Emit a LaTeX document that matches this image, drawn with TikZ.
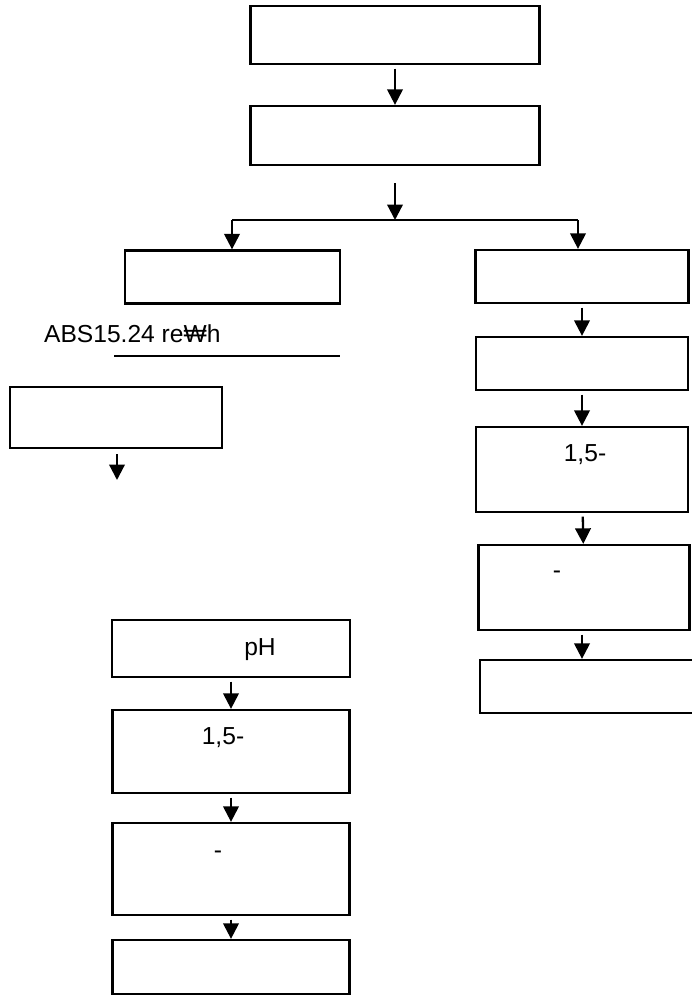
\documentclass[tikz,border=0pt]{standalone}
\usepackage{fontspec}
\setmainfont{Liberation Sans}
\usetikzlibrary{arrows.meta}

\begin{document}
\begin{tikzpicture}[->,>={Triangle[length=0.31cm,width=0.31cm]},line width=1.3pt]
                \tikzset{box/.style={draw, rectangle, minimum size=0pt, inner sep=0pt},
                         txt/.style={inner sep=0pt, font=\fontsize{14pt}{16pt}\selectfont},
                         every edge/.style={draw, shorten <=2pt}}
                \useasboundingbox (0,0) rectangle (13.82,-20);
                % top of the chart
                \node[box, minimum width=5.78cm, minimum height=1.16cm] (A) at (7.90,-0.70) {};
                \node[box, minimum width=5.78cm, minimum height=1.18cm] (B) at (7.90,-2.71) {};
                \coordinate (s) at (7.90,-4.40);
                \coordinate (sl) at (4.64,-4.40);
                \coordinate (sr) at (11.56,-4.40);
                \path (A) edge (B);
                \path (B) edge[shorten <=0.34cm] (s);
                \draw[-] (sl) -- (sr);
                % right branch
                \node[box, minimum width=4.30cm, minimum height=1.06cm] (C) at (4.65,-5.54) {};
                \node[box, minimum width=4.26cm, minimum height=1.06cm] (D) at (11.64,-5.53) {};
                \node[box, minimum width=4.24cm, minimum height=1.06cm] (E) at (11.64,-7.27) {};
                \node[box, minimum width=4.24cm, minimum height=1.70cm] (F) at (11.64,-9.39) {};
                \node[box, minimum width=4.22cm, minimum height=1.70cm] (G) at (11.68,-11.75) {};
                \node[box, minimum width=4.28cm, minimum height=1.06cm] (H) at (11.74,-13.73) {};
                \node[txt] (f1) at (11.70,-9.10) {1,5-};
                \node[txt] (g1) at (11.14,-11.50) {-};
                \path (sl) edge[shorten <=0pt] (sl |- C.north);
                \path (sr) edge[shorten <=0pt] (sr |- D.north);
                \path (D) edge (E);
                \path (E) edge (F);
                \path (F) edge (G);
                \path (G.south -| F.south) edge (H.north -| F.south);
                % left branch
                \node[txt, anchor=base west] (abs) at (0.86,-6.84) {ABS15.24 re₩h};
                \draw[-] (2.28,-7.12) -- (6.80,-7.12);
                \node[box, minimum width=4.24cm, minimum height=1.22cm] (I) at (2.32,-8.35) {};
                \coordinate (i1) at (2.34,-9.60);
                \path (I.south -| i1) edge[shorten <=0.1cm] (i1);
                \node[box, minimum width=4.76cm, minimum height=1.14cm] (J) at (4.62,-12.97) {};
                \node[box, minimum width=4.74cm, minimum height=1.66cm] (K) at (4.62,-15.03) {};
                \node[box, minimum width=4.74cm, minimum height=1.84cm] (L) at (4.62,-17.38) {};
                \node[box, minimum width=4.74cm, minimum height=1.08cm] (M) at (4.62,-19.34) {};
                \node[txt] (j1) at (5.20,-13.00) {pH};
                \node[txt] (k1) at (4.46,-14.76) {1,5-};
                \node[txt] (l1) at (4.36,-17.10) {-};
                \path (J) edge (K);
                \path (K) edge (L);
                \path (L) edge (M);
            \end{tikzpicture}
\end{document}
